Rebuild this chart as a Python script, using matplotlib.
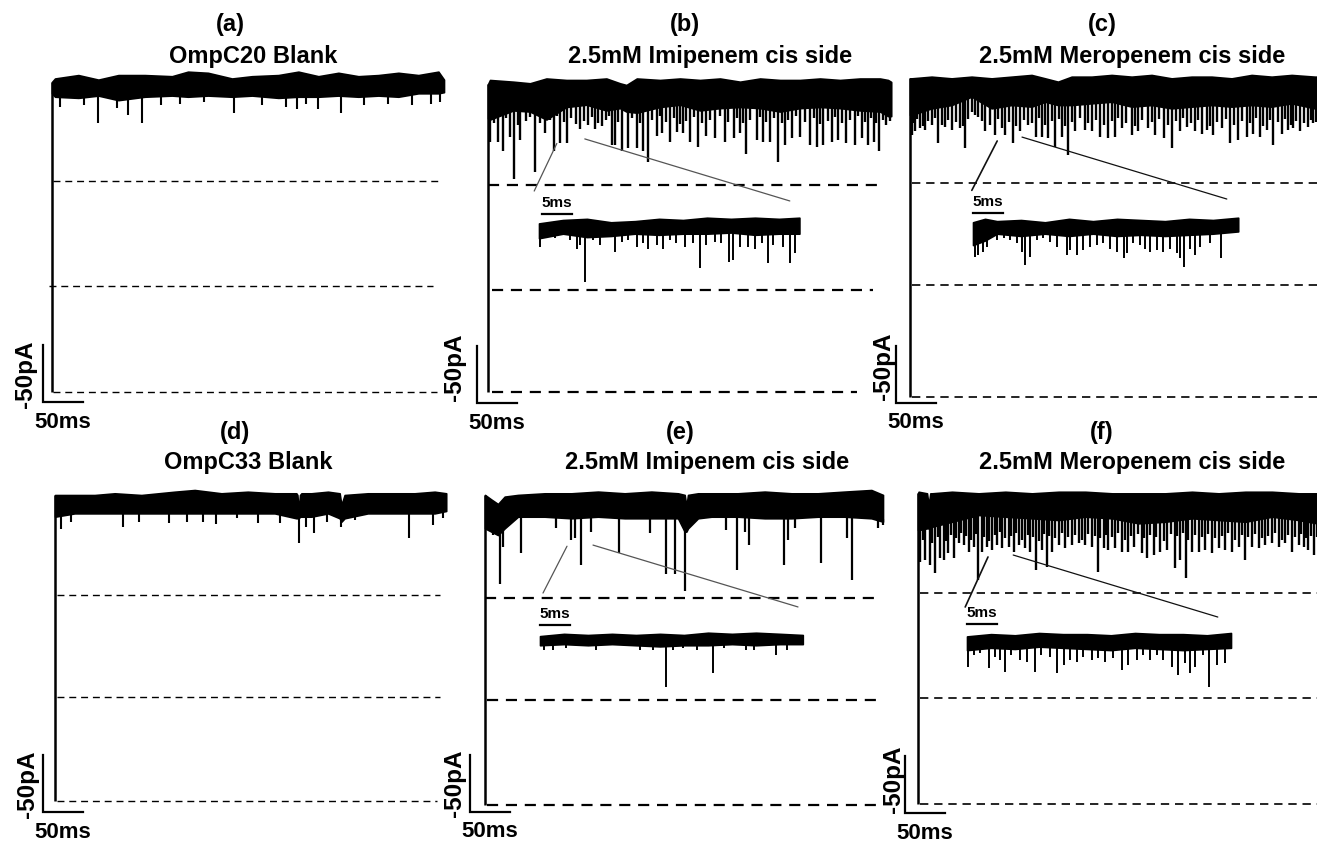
import numpy as np
import matplotlib.pyplot as plt
from matplotlib.patches import ConnectionPatch

plt.rcParams['font.family'] = ['Liberation Sans', 'DejaVu Sans']
plt.rcParams['font.weight'] = 'bold'

W, H = 1317, 841
PX_MS = 0.8      # main traces: pixels per ms (50 ms bar ~ 40 px)
PX_MS_IN = 6.0   # insets: pixels per ms (5 ms bar ~ 30 px)
PX_PA = 1.14     # pixels per pA (50 pA bar ~ 57 px)

# ---------------- text ----------------
panel_tags = ['(a)', '(b)', '(c)', '(d)', '(e)', '(f)']
panel_titles = ['OmpC20 Blank', '2.5mM Imipenem cis side', '2.5mM Meropenem cis side',
                'OmpC33 Blank', '2.5mM Imipenem cis side', '2.5mM Meropenem cis side']

# ---------------- (a) OmpC20 blank : time (ms), current (pA) ----------------
a_env_t = [0, 3.75, 33, 58, 83, 116, 150, 170, 195, 225, 250, 283, 308, 333, 358, 383, 408, 433, 458, 483, 490]
a_env_top = [272, 275, 278, 274, 278, 278, 277, 281, 280, 275, 277, 278, 281, 277, 280, 277, 278, 280, 278, 281, 274]
a_env_low = [262, 259, 258, 260, 256, 259, 260, 259, 260, 259, 260, 258, 259, 259, 260, 259, 260, 259, 262, 262, 263]
a_spike_t = [10, 40, 57, 81, 95, 113, 136, 160, 190, 228, 262, 292, 306, 318, 332, 361, 390, 420, 450, 474, 485]
a_spike_i = [250, 252, 236, 249, 243, 236, 252, 253, 254, 245, 252, 250, 248, 253, 248, 245, 252, 253, 252, 253, 254]
a_levels = [185, 93, 0]

# ---------------- (b) OmpC20 + imipenem ----------------
b_env_t = [0, 2.5, 31.7, 52.5, 73, 98, 123, 148, 165, 173, 186, 215, 240, 265, 290, 315, 340, 365, 390, 415, 440, 465, 490, 500, 504]
b_env_top = [270, 273.7, 272.2, 270.8, 275, 273.7, 273.7, 275, 270.8, 269.3, 275, 273.7, 275, 273.7, 275, 272.2, 275, 273.7, 273.7, 275, 273.7, 275, 275, 273.7, 272]
b_env_low = [240, 239, 247, 246, 239, 250, 252, 247, 249, 246, 245, 250, 252, 247, 249, 250, 249, 246, 249, 250, 249, 247, 246, 242, 242]
b_spike_t = [2.5, 13, 19, 27, 33, 40, 59, 71, 82, 90, 99, 115, 125, 134, 142, 155, 159, 168, 175, 186, 194, 200, 211, 218,
             228, 236, 244, 253, 263, 273, 284, 296, 307, 315, 323, 336, 344, 352, 363, 371, 380, 390, 403, 411, 419, 430,
             438, 448, 459, 467, 475, 482, 489, 498]
b_spike_i = [219.5, 219.5, 211, 224, 187, 221, 193, 227, 211, 218, 218, 231, 234, 231, 233, 217, 217, 211, 214, 214, 211, 202,
             225, 227, 219.5, 228, 227, 219.5, 215, 225, 222.5, 219.5, 222.5, 227, 209, 221, 219.5, 219.5, 202, 217, 222.5,
             224, 217, 215, 217, 219.5, 221, 218, 217, 222.5, 217, 219.5, 211, 234]
# shorter openings filling the noisy lower edge
b_small_t = [7, 23, 37, 47, 53, 65, 77, 86, 95, 104, 110, 120, 130, 138, 147, 151, 163, 180, 190, 205, 215, 222, 232, 240,
             248, 258, 268, 278, 290, 300, 311, 319, 328, 340, 348, 357, 367, 375, 385, 396, 407, 415, 425, 434, 443, 453,
             463, 471, 479, 485, 494, 502]
b_small_i = [236, 240, 234, 238, 241, 236, 239, 242, 237, 240, 235, 238, 241, 236, 239, 242, 237, 240, 236, 239, 242, 237,
             240, 235, 238, 241, 236, 239, 242, 237, 240, 236, 239, 241, 237, 240, 236, 239, 242, 237, 240, 235, 238, 241,
             236, 239, 242, 237, 240, 236, 239, 238]
b_levels = [182, 89.5, 0]
b_in_env_t = [0, 4, 8, 12, 16, 20, 24, 28, 32, 36, 40, 43.4]
b_in_env_top = [271, 274, 275, 272, 273, 275, 274, 276, 275, 276, 275, 276]
b_in_env_low = [258, 262, 259, 260, 262, 261, 262, 262, 263, 261, 262, 262]
b_in_spike_t = [0.2, 1.3, 2.7, 3.8, 5.2, 6.3, 6.8, 7.7, 9, 10.2, 12.7, 13.8, 14.9, 16.3, 17.4, 18.2, 19.6, 20.7, 21.8,
                22.9, 24.3, 25.7, 26.8, 27.9, 29.3, 30.4, 31.7, 32.4, 33.5, 34.9, 36, 37.1, 38.2, 39, 40.7, 41.8, 42.7]
b_in_spike_i = [250.6, 258, 258, 261, 256.5, 249, 252, 219.9, 256.5, 252, 246, 255, 256.5, 250.6, 253.5, 249, 252, 249,
                256.5, 253.5, 250.6, 253.5, 231.6, 252, 255, 253.5, 237.4, 239, 250.6, 250.6, 249, 253.5, 236, 252,
                250.6, 236, 244.8]

# ---------------- (c) OmpC20 + meropenem ----------------
c_env_t = [0, 2, 27, 52, 77, 102, 127, 152, 169, 185, 202, 227, 252, 277, 302, 327, 352, 377, 402, 427, 452, 477, 506, 515]
c_env_top = [279.5, 279.5, 281, 279.5, 281, 279.5, 281, 282.5, 279.5, 276.6, 281, 281, 282.5, 281, 282.5, 279.5, 281, 281,
             279.5, 282.5, 281, 282.5, 281, 281]
c_env_low = [247.4, 247.4, 253.2, 256.1, 263.5, 253.2, 256.1, 254.7, 259, 256.1, 256.1, 257.6, 259, 254.7, 256.1, 253.2,
             254.7, 256.1, 254.7, 256.1, 254.7, 257.6, 253.2, 253.2]
c_spike_t = [2, 6, 12.5, 19, 27, 35, 44, 52, 62.5, 69, 77, 85, 94, 106, 115, 119, 129, 137.5, 148, 158, 165, 173, 181,
             190, 198, 206, 219, 227, 237.5, 248, 256, 265, 277, 285, 298, 306, 317, 327, 337.5, 346, 356, 365, 371,
             379, 390, 400, 410, 421, 429, 437.5, 446, 454, 465, 473, 479, 487, 498, 504]
c_spike_i = [230, 233, 236, 234, 239, 222.5, 237, 234, 236, 218, 250, 246, 233, 230, 236, 230, 222.5, 233, 239, 228, 228,
             227, 219.5, 228, 212, 233, 234, 233, 228, 227, 228, 236, 230, 233, 236, 230, 227, 218, 233, 237, 233, 231,
             234, 230, 236, 222.5, 225, 228, 231, 228, 234, 221, 231, 234, 236, 233, 237, 240]
c_small_t = [4, 9, 16, 23, 31, 40, 48, 57, 66, 73, 81, 90, 100, 110, 124, 133, 143, 153, 161, 169, 177, 186, 194, 202,
             212, 223, 232, 243, 252, 260, 270, 281, 290, 302, 311, 322, 332, 341, 351, 360, 375, 384, 395, 405, 415,
             425, 433, 441, 450, 460, 469, 476, 483, 492, 501, 508]
c_small_i = [240, 244, 238, 242, 245, 239, 243, 241, 238, 244, 247, 242, 239, 244, 241, 238, 243, 240, 245, 239, 242, 244,
             238, 241, 245, 240, 243, 239, 242, 245, 240, 238, 243, 241, 244, 239, 242, 245, 240, 243, 238, 241, 244,
             239, 242, 240, 245, 238, 243, 241, 244, 239, 242, 240, 243, 241]
c_levels = [188, 98, 0]
c_in_env_t = [0, 2, 4, 8, 12, 16, 20, 24, 28, 32, 36, 40, 44.2]
c_in_env_top = [278, 281, 279, 280, 278, 281, 279, 281, 280, 279, 281, 280, 282]
c_in_env_low = [258, 262, 268, 266, 268, 266, 268, 266, 267, 266, 267, 268, 270]
c_in_spike_t = [0.3, 0.9, 1.7, 2.3, 4, 5.1, 6.2, 7.3, 8.1, 8.7, 9.5, 10.6, 11.7, 12.8, 14, 15.6, 16.2, 17.3, 18.4, 19.5,
                20.6, 21.7, 22.8, 24, 25.1, 25.6, 26.7, 27.8, 28.7, 29.5, 30.6, 31.7, 32.8, 34, 34.5, 35.1, 36.2, 37,
                37.8, 39.5, 41.4]
c_in_spike_i = [247.8, 249.3, 252.2, 256.6, 262.5, 264, 262.5, 259.5, 252.2, 240.5, 247.8, 262.5, 264, 261, 256.6, 249.3,
                253.7, 249.3, 253.7, 256.6, 258, 259.5, 255, 252.2, 246.4, 250.8, 259.5, 258, 255, 252.2, 253.7, 252.2,
                255, 250.8, 246.4, 239, 255, 249.3, 256.6, 259.5, 246.4]

# ---------------- (d) OmpC33 blank ----------------
d_env_t = [0, 24.6, 49.6, 74.6, 108, 149.6, 174.6, 208, 241, 274.6, 301.7, 303, 304.6, 306.25, 308, 320.4, 341.25, 355.8,
           358, 362, 391, 424.6, 449.6, 474.6, 489]
d_env_top = [268.4, 268.4, 268.4, 269.9, 268.4, 271.3, 272.8, 269.9, 271.3, 269.9, 269.9, 268.4, 253.8, 268.4, 269.9,
             269.9, 271.3, 269.9, 259.6, 268.4, 269.9, 269.9, 269.9, 271.3, 269.9]
d_env_low = [249.4, 252.3, 252.3, 252.3, 252.3, 252.3, 252.3, 252.3, 252.3, 252.3, 248, 248, 248, 249.4, 249.4, 249.4,
             252.3, 248, 245, 248, 252.3, 252.3, 252.3, 252.3, 254.4]
d_spike_t = [7, 19.6, 85, 104.6, 142, 165.4, 185, 201.7, 228, 254, 281, 304.6, 314, 323.3, 340.4, 358, 374.6, 443, 472.5, 485]
d_spike_i = [239, 245, 240.6, 244.4, 243.5, 245, 245, 242.7, 248, 243.5, 243.5, 226, 240.6, 235, 245, 240.6, 246.5,
             230.5, 242, 248]
d_levels = [181, 91, 0]

# ---------------- (e) OmpC33 + imipenem ----------------
e_env_t = [0, 7.9, 16.25, 24.6, 41.25, 74.6, 108, 141.25, 174.6, 208, 241.25, 249.6, 251.7, 253.75, 266.25, 283, 316,
           349.6, 383, 416.25, 449.6, 483, 497.5]
e_env_top = [272, 268, 264, 270.5, 272, 273.4, 273.4, 274.9, 273.4, 274.9, 273.4, 272, 262, 272, 273.4, 273.4, 273.4,
             274.9, 273.4, 273.4, 274.9, 276.3, 272]
e_env_low = [242.7, 239.8, 236.8, 242.7, 252.9, 252.9, 251.5, 252.9, 251.5, 251.5, 251.5, 239.8, 239.8, 242.7, 251.5,
             252.9, 252.9, 251.5, 251.5, 252.9, 252.9, 251.5, 248.5]
e_spike_t = [10, 18.3, 22.5, 44.6, 88.3, 107, 112, 120.4, 133, 167, 206.7, 225.8, 237, 249.6, 301.7, 315.4, 324.6, 329.6,
             373.8, 378.75, 388, 420.4, 453, 459, 491, 497.5]
e_spike_i = [236.8, 194, 226.6, 220.8, 242.7, 232.5, 233.9, 210.5, 239.8, 220.8, 238.3, 203, 203, 188, 241.2, 206, 239.8,
             228, 210.5, 232.5, 242.7, 212, 233.9, 197, 242.7, 245.6]
e_levels = [182, 92, 0]
e_in_env_t = [0, 4, 8, 12, 16, 20, 24, 28, 32, 36, 40, 43.8]
e_in_env_top = [270, 272, 271, 272, 271, 272, 271, 273, 272, 273, 272, 271]
e_in_env_low = [262, 263, 262, 263, 262, 261, 262, 262, 263, 262, 263, 263]
e_in_spike_t = [0.6, 2.2, 4.4, 9.4, 16.7, 18.9, 21, 22.2, 23.9, 26.1, 28.9, 30.6, 34.4, 35.6, 39.3, 41.1]
e_in_spike_i = [258, 257.8, 259.3, 257.8, 257.8, 257.8, 225.6, 257.8, 259.3, 257.8, 237.4, 259.3, 257.8, 258, 253.5, 258]

# ---------------- (f) OmpC33 + meropenem ----------------
f_env_t = [0, 0.8, 11.25, 13.3, 15.4, 17.5, 42.5, 75.8, 109.2, 142.5, 175.8, 209.2, 242.5, 275.8, 309.2, 342.5, 375.8,
           409.2, 442.5, 475.8, 498.75, 510]
f_env_top = [272.5, 273.9, 272.5, 262, 272.5, 272.5, 273.9, 272.5, 273.9, 272.5, 273.9, 273.9, 272.5, 272.5, 272.5,
             273.9, 272.5, 273.9, 273.9, 272.5, 272.5, 272.5]
f_env_low = [240.3, 240.3, 241.8, 241.8, 243.2, 243.2, 247.6, 253.5, 252, 250.6, 249.1, 252, 250.6, 246.2, 247.6, 250.6,
             249.1, 247.6, 252, 249.1, 246.2, 246.2]
f_spike_t = [3, 9, 15.4, 21.7, 28, 32, 38, 44.6, 50.8, 57, 63.3, 69.6, 75, 80, 86, 92.5, 99, 105, 113.3, 119.6, 126, 134,
             140.4, 147.5, 155, 161, 167.5, 176, 184, 192.5, 201, 209, 217.5, 224.6, 232, 238, 246.7, 255, 263, 269.6,
             280, 286, 294.6, 303, 311, 321.7, 328, 335, 342.5, 351, 359, 367.5, 376, 384, 392.5, 401, 409, 417.5, 426,
             434, 442.5, 451, 459, 467.5, 476, 482, 488, 494.6]
f_spike_i = [212.6, 214, 209.6, 202.3, 215.5, 214, 219.9, 215.5, 228.7, 227.2, 221.4, 225.7, 196.5, 221.4, 225.7, 222.8,
             227.2, 224.3, 225.7, 221.4, 227.2, 224.3, 221.4, 205.3, 222.8, 208.2, 221.4, 227.2, 224.3, 227.2, 228.7,
             227.2, 225.7, 203.8, 224.3, 222.8, 224.3, 221.4, 221.4, 225.7, 219.9, 215.5, 218.4, 221.4, 222.8, 206.7,
             214, 197.9, 221.4, 221.4, 222.8, 219.9, 224.3, 222.8, 221.4, 225.7, 214, 225.7, 224.3, 227.2, 228.7, 225.7,
             228.7, 221.4, 227.2, 225.7, 222.8, 218.4]
f_small_t = [6, 18, 25, 35, 41, 47, 54, 60, 66, 72, 83, 89, 96, 102, 109, 116, 123, 130, 137, 144, 151, 158, 164, 171,
             180, 188, 196, 205, 213, 221, 228, 235, 242, 250, 259, 266, 275, 283, 290, 298, 307, 316, 324, 331, 338,
             346, 355, 363, 371, 380, 388, 396, 405, 413, 421, 430, 438, 446, 455, 463, 471, 479, 485, 491, 499]
f_small_i = [232, 229, 234, 231, 236, 233, 238, 235, 232, 237, 234, 231, 236, 239, 233, 235, 238, 232, 236, 234, 231, 237,
             235, 233, 238, 234, 236, 232, 237, 235, 233, 236, 234, 238, 232, 235, 237, 233, 236, 234, 231, 237, 235,
             238, 232, 236, 234, 237, 233, 235, 238, 232, 236, 234, 237, 233, 235, 238, 232, 236, 234, 237, 233, 235, 234]
f_levels = [185, 93, 0]
f_in_env_t = [0, 4, 8, 12, 16, 20, 24, 28, 32, 36, 40, 44]
f_in_env_top = [270, 272, 271, 273, 272, 272, 271, 273, 272, 272, 271, 273]
f_in_env_low = [258, 260, 259, 261, 260, 259, 258, 260, 259, 258, 259, 260]
f_in_spike_t = [0.2, 1.1, 2.2, 3.6, 4.7, 5.5, 6.3, 7.4, 8.8, 10, 11.3, 12.4, 13.8, 15, 16.1, 17.2, 18.3, 19.4, 20.8,
                21.9, 23, 24.4, 25.8, 26.9, 28.3, 29.4, 30.5, 31.6, 32.7, 34.1, 35.2, 36.3, 37.2, 38, 39.4, 40.4,
                41.6, 43]
f_in_spike_i = [243.4, 253.7, 255.2, 242, 252.2, 249.3, 239, 253.7, 249.3, 247.8, 239, 253.7, 252.2, 237.6, 244.9,
                249.3, 247.8, 252.2, 249.3, 250.8, 247.8, 250.8, 240.5, 244.9, 249.3, 253.7, 249.3, 253.7, 249.3,
                243.4, 236.2, 246.4, 237.6, 243.4, 253.7, 225.9, 244.9, 246.4]

# ---------------- layout (pixels / offsets) ----------------
origins = [(52, 392), (488, 392), (910, 397), (55, 801), (485, 805), (918, 804)]
tag_pos = [(230, 25), (685, 25), (1102, 25), (235, 433), (680, 432), (1102, 433)]
title_pos = [(253, 57), (710, 57), (1132, 57), (248, 463), (707, 463), (1132, 462)]
dash_t0 = [[1, -4, 1], [0, 5, 5], [2.5, 2.5, 2.5], [2.5, 2.5, 2.5], [0, 2.5, 2.5], [2.5, 2.5, 2.5]]
dash_t1 = [[483, 476, 481], [494, 481, 461], [515, 515, 515], [481, 481, 477], [494, 494, 497], [515, 515, 515]]
dash_style = [(1.0, (5, 3.5)), (1.6, (5, 3.5)), (1.2, (5, 3.5)), (1.0, (5, 3.5)), (1.6, (5, 3.5)), (1.2, (5, 3.5))]
bar_origin = [(-11, -9), (-14, -10), (-17.5, -5), (-15, -10), (-19, -6), (-16, -8)]
pa_label_off = [(-18, 0), (-22, 8), (-12, 8), (-15, 0), (-15, 0), (-12, 5)]
spike_lw = [1.5, 1.7, 1.7, 1.5, 1.6, 1.7]

inset_place = {1: (539, 220, 274), 2: (973, 220, 280), 4: (540, 635, 271), 5: (967, 633, 273)}
zoom_lines = {1: [((86, 218), (-0.8, 299.4)), ((121, 222), (41.8, 290.7))],
              2: [((109, 224.6), (-0.2, 306)), ((140, 228), (42.3, 298.4))],
              4: [((102.5, 227), (0.5, 307.8)), ((135, 228), (43, 295.6))],
              5: [((87.5, 216.7), (-0.3, 295.8)), ((119, 218.4), (41.8, 287))]}
zoom_line_style = {1: ('#555555', 0.9, 0.9), 2: ('#111111', 1.2, 0.9), 4: ('#555555', 0.9, 0.9), 5: ('#111111', 1.2, 0.9)}
ms_bar = {1: (0.5, 279.3), 2: (0, 286), 4: (0, 279.8), 5: (0, 281)}

main_data = [
    (a_env_t, a_env_top, a_env_low, a_spike_t, a_spike_i, a_levels),
    (b_env_t, b_env_top, b_env_low, b_spike_t + b_small_t, b_spike_i + b_small_i, b_levels),
    (c_env_t, c_env_top, c_env_low, c_spike_t + c_small_t, c_spike_i + c_small_i, c_levels),
    (d_env_t, d_env_top, d_env_low, d_spike_t, d_spike_i, d_levels),
    (e_env_t, e_env_top, e_env_low, e_spike_t, e_spike_i, e_levels),
    (f_env_t, f_env_top, f_env_low, f_spike_t + f_small_t, f_spike_i + f_small_i, f_levels),
]
inset_data = {
    1: (b_in_env_t, b_in_env_top, b_in_env_low, b_in_spike_t, b_in_spike_i),
    2: (c_in_env_t, c_in_env_top, c_in_env_low, c_in_spike_t, c_in_spike_i),
    4: (e_in_env_t, e_in_env_top, e_in_env_low, e_in_spike_t, e_in_spike_i),
    5: (f_in_env_t, f_in_env_top, f_in_env_low, f_in_spike_t, f_in_spike_i),
}

fig = plt.figure(figsize=(W / 100, H / 100), dpi=100)


def overlay_axes(x0, y0, px_ms):
    # full-figure transparent axes; data origin sits at pixel (x0, y0)
    ax = fig.add_axes([0, 0, 1, 1])
    ax.set_xlim(-x0 / px_ms, (W - x0) / px_ms)
    ax.set_ylim((y0 - H) / PX_PA, y0 / PX_PA)
    ax.axis('off')
    ax.patch.set_visible(False)
    return ax


def draw_trace(ax, t, top, low, st, si, lw):
    ax.fill_between(t, low, top, color='black', lw=1.2)
    attach = np.interp(st, t, low) + 2
    ax.vlines(st, si, attach, color='black', lw=lw)


for k in range(6):
    x0, y0 = origins[k]
    t, top, low, st, si, levels = main_data[k]
    ax = overlay_axes(x0, y0, PX_MS)
    draw_trace(ax, t, top, low, st, si, spike_lw[k])
    # step from zero current up to the open level
    ax.vlines(t[0], levels[-1], top[0], color='black', lw=1.8)
    lw_d, dash = dash_style[k]
    ax.hlines(levels, dash_t0[k], dash_t1[k], colors='black', lw=lw_d, linestyles=[(0, dash)])

    # scale bars
    sx, sy = bar_origin[k]
    ax.plot([sx, sx, sx + 50], [sy + 50, sy, sy], color='black', lw=1.6, solid_joinstyle='miter',
            clip_on=False)
    ax.annotate('50ms', (sx + 25, sy), xytext=(0, -20), textcoords='offset pixels',
                ha='center', va='center', fontsize=16, fontweight='bold')
    dx, dy = pa_label_off[k]
    ax.annotate('-50pA', (sx, sy + 25), xytext=(dx, dy), textcoords='offset pixels',
                ha='center', va='center', rotation=90, fontsize=17.5, fontweight='bold')

    fig.text(tag_pos[k][0] / W, 1 - tag_pos[k][1] / H, panel_tags[k], ha='center', va='center',
             fontsize=17, fontweight='bold')
    fig.text(title_pos[k][0] / W, 1 - title_pos[k][1] / H, panel_titles[k], ha='center', va='center',
             fontsize=17, fontweight='bold')

    if k in inset_data:
        xi, band_px, ref = inset_place[k]
        axi = overlay_axes(xi, band_px + ref * PX_PA, PX_MS_IN)
        ti, topi, lowi, sti, sii = inset_data[k]
        draw_trace(axi, ti, topi, lowi, sti, sii, 1.4)
        bx, by = ms_bar[k]
        axi.plot([bx, bx + 5], [by, by], color='black', lw=1.6)
        axi.annotate('5ms', (bx + 2.5, by), xytext=(0, 11), textcoords='offset pixels',
                     ha='center', va='center', fontsize=11, fontweight='bold')
        col, lw_a, lw_b = zoom_line_style[k]
        for i, (pa, pb) in enumerate(zoom_lines[k]):
            cp = ConnectionPatch(xyA=pa, coordsA=ax.transData, xyB=pb, coordsB=axi.transData,
                                 color=col, lw=lw_a if i == 0 else lw_b)
            fig.add_artist(cp)

fig.savefig('out.png', dpi=100)
